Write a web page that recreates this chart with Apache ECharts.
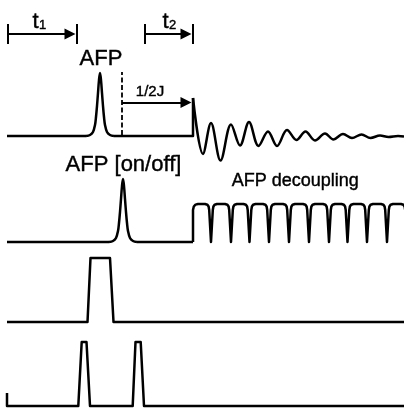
<!DOCTYPE html>
<html><head><meta charset="utf-8">
<script src="https://cdn.jsdelivr.net/npm/echarts@6/dist/echarts.min.js"></script>
<style>html,body{margin:0;padding:0;background:#fff}#c{width:404px;height:408px}</style>
</head><body><div id="c"></div>
<script>
// ===== data (time in arbitrary units along the sequence, amplitude above each channel baseline) =====
const seqStart = 7, seqEnd = 404;
// channel 1: AFP pulse followed by FID
const afp1Time = [86, 90, 93, 95, 96, 97, 98, 99, 100, 101, 102, 103, 104, 105, 107, 110, 114];
const afp1Amp  = [0, 1, 4, 11, 19, 30, 43, 56, 63, 56, 43, 30, 19, 11, 4, 1, 0];
const fidTime = [193, 203, 211, 220.5, 231, 240, 249, 258.5, 268, 277, 287, 296.5, 305.5, 315, 325, 333.5, 343, 352, 361.5, 370.5, 380, 388.5, 398, 404];
const fidAmp  = [38, -18, 13, -24.5, 11.5, -9.5, 14, -10, 4.5, -10, 6, -4, 4.5, -4.5, 2.5, -3.5, 2, -2, 1.5, -2, 0.5, -1, 0, -0.5];
// channel 2: AFP [on/off] pulse followed by AFP decoupling train
const afp2Time = [109, 113, 116, 118, 119, 120, 121, 122, 123, 124, 125, 126, 127, 128, 130, 133, 137];
const afp2Amp  = [0, 1, 4, 11, 19, 30, 43, 56, 63, 56, 43, 30, 19, 11, 4, 1, 0];
const decStart = 193, decLevel = 38;
const decDips = [211, 231, 249.5, 269, 289, 309, 329, 347.5, 367, 387, 407];
// channel 3: one wide pulse
const ch3Time = [7, 87.5, 90.5, 110, 113.5, 404];
const ch3Amp  = [0, 0, 64, 64, 0, 0];
// channel 4: two narrow pulses
const ch4Time = [7, 7, 78.3, 81.7, 86.5, 90, 132.7, 135.5, 140.7, 144, 404];
const ch4Amp  = [13, 0, 0, 64, 64, 0, 0, 64, 64, 0, 0];
// delays
const t1 = [8, 77], t2 = [145, 193], delayLevel = 102;
const halfJ = [122, 193], halfJLevel = 33.5, halfJMarker = [1, 64];
// labels: [text, time, amplitude, channel]
const labelText = ['AFP', '1/2J', 't', '1', 't', '2', 'AFP [on/off]', 'AFP decoupling'];
const labelTime = [101, 150, 35.5, 42.5, 165.5, 172.5, 123.5, 295.3];
const labelAmp  = [77, 44.5, 114.5, 111, 114.5, 111, 77, 61];
const labelCh   = [0, 0, 0, 0, 0, 0, 1, 1];
const labelSize = [22, 15, 22, 13, 22, 13, 22, 18];

// ===== build =====
const font = '"Liberation Sans", Arial, Helvetica, sans-serif';
const zip = (a, b) => a.map((v, i) => [v, b[i]]);
const black = '#000';
const grids = [
  {left: 0, right: 0, top: 0, height: 170},
  {left: 0, right: 0, top: 150, height: 100},
  {left: 0, right: 0, top: 250, height: 80},
  {left: 0, right: 0, top: 330, height: 78}
];
const yr = [[-34, 136], [-8, 92], [-8, 72], [-2, 76]];
const xAxis = grids.map((g, i) => ({type: 'value', gridIndex: i, min: 0, max: 404, show: false}));
const yAxis = yr.map((r, i) => ({type: 'value', gridIndex: i, min: r[0], max: r[1], show: false}));

function poly(ch, lines, width, extra) {
  return Object.assign({
    type: 'lines', coordinateSystem: 'cartesian2d', xAxisIndex: ch, yAxisIndex: ch,
    polyline: true, silent: true, clip: false, symbol: 'none',
    lineStyle: {color: black, width: width || 2.5, opacity: 1, join: 'round', cap: 'butt'},
    data: lines.map(c => ({coords: c}))
  }, extra || {});
}
function curve(ch, data) {
  return {type: 'line', xAxisIndex: ch, yAxisIndex: ch, data: data, smooth: 0.35, showSymbol: false,
    silent: true, clip: false, lineStyle: {color: black, width: 2.5, join: 'round'}};
}
// decoupling train
const dec = [[decStart, 0], [decStart, decLevel - 6], [decStart + 0.8, decLevel - 2.5], [decStart + 2.5, decLevel - 0.6], [decStart + 5, decLevel]];
decDips.forEach(d => {
  dec.push([d - 6, decLevel], [d - 3.6, decLevel - 0.7], [d - 2.4, decLevel - 2.5], [d - 1.8, decLevel - 6], [d, 0],
           [d + 1.8, decLevel - 6], [d + 2.4, decLevel - 2.5], [d + 3.6, decLevel - 0.7], [d + 6, decLevel]);
});
const head = {polyline: false, symbol: ['none', 'triangle'], symbolSize: [8, 11], itemStyle: {color: black}};
const arrowTo = (a, lvl) => [[a[0], lvl], [a[1] - 5.5 - 1.5, lvl]];
const series = [
  // channel 1
  poly(0, [[[seqStart, 0], [afp1Time[0], 0]], [[afp1Time[afp1Time.length - 1], 0], [fidTime[0], 0], [fidTime[0], fidAmp[0]]]]),
  curve(0, zip(afp1Time, afp1Amp)),
  curve(0, zip(fidTime, fidAmp)),
  // delay bars and arrows
  poly(0, [t1[0], t1[1], t2[0], t2[1]].map(x => [[x, delayLevel + 10], [x, delayLevel - 10]]), 2),
  poly(0, [arrowTo(t1, delayLevel), arrowTo(t2, delayLevel)], 2, head),
  poly(0, [arrowTo(halfJ, halfJLevel)], 2, head),
  poly(0, [[[halfJ[0], halfJMarker[0]], [halfJ[0], halfJMarker[1]]]], 2, {lineStyle: {color: black, width: 1.8, opacity: 1, type: [5, 2.5]}}),
  // channel 2
  poly(1, [[[seqStart, 0], [afp2Time[0], 0]], [[afp2Time[afp2Time.length - 1], 0], [decStart, 0]], dec]),
  curve(1, zip(afp2Time, afp2Amp)),
  // channel 3 & 4
  poly(2, [zip(ch3Time, ch3Amp)]),
  poly(3, [zip(ch4Time, ch4Amp)])
];
// labels
[0, 1].forEach(ch => {
  const data = [];
  labelText.forEach((t, i) => {
    if (labelCh[i] !== ch) return;
    data.push({value: [labelTime[i], labelAmp[i]], label: {formatter: t, fontSize: labelSize[i]}});
  });
  series.push({type: 'scatter', xAxisIndex: ch, yAxisIndex: ch, symbolSize: 1, silent: true, clip: false,
    itemStyle: {color: '#fff', opacity: 0}, data: data,
    label: {show: true, position: 'inside', color: black, opacity: 1, fontFamily: font, align: 'center', verticalAlign: 'middle',
      textBorderColor: black, textBorderWidth: 0.4}});
});
const chart = echarts.init(document.getElementById('c'), null, {renderer: 'canvas'});
chart.setOption({animation: false, backgroundColor: '#fff', grid: grids, xAxis: xAxis, yAxis: yAxis, series: series});
</script></body></html>
